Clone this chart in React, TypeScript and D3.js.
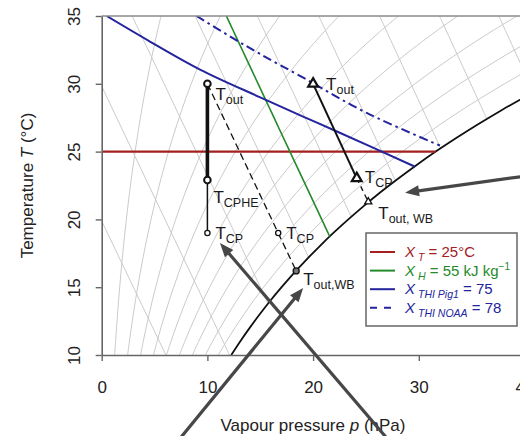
import React, { useEffect, useRef } from "react";
import * as d3 from "d3";

// axis ticks
const xTicks = [0, 10, 20, 30, 40];
const yTicks = [10, 15, 20, 25, 30, 35];

// saturation vapour pressure (hPa) at 10..35 °C
const satTemps = [10, 11, 12, 13, 14, 15, 16, 17, 18, 19, 20, 21, 22, 23, 24, 25, 26, 27, 28, 29, 30, 31, 32, 33, 34, 35];
const satPressures = [
  12.26, 13.1, 14.0, 14.95, 15.95, 17.02, 18.14, 19.33, 20.59, 21.92, 23.33, 24.81, 26.37,
  28.03, 29.77, 31.6, 33.54, 35.57, 37.71, 39.97, 42.34, 44.83, 47.45, 50.2, 53.09, 56.13,
];

// background isolines
const rhLevels = [0.1, 0.2, 0.3, 0.4, 0.5, 0.6, 0.7, 0.8, 0.9];
const enthalpyLevels = [10, 20, 30, 40, 50, 60, 70, 80, 90, 100];
const airPressure = 963;

// thresholds
const limitTemp = 25;
const limitEnthalpy = 55;
const thiPig1P = [0.47, 4.6, 9.3, 15.0, 19.0, 22.2, 29.6];
const thiPig1T = [35, 33.1, 31.05, 29.0, 27.6, 26.5, 23.9];
const thiNoaaP = [8.97, 12.45, 14.98, 19.07, 25.07, 32.0];
const thiNoaaT = [35, 33.35, 32.2, 30.45, 27.85, 25.45];

// states (circles: CPHE case, triangles: CP case)
const circleSubs = ["out", "CPHE", "CP", "CP", "out,WB"];
const circleP = [10, 10, 10, 16.7, 18.4];
const circleT = [30, 22.9, 19, 19, 16.2];
const triangleSubs = ["out", "CP", "out, WB"];
const triangleP = [20, 24.13, 25.22];
const triangleT = [30, 23.03, 21.3];

// annotation arrows
const arrowFromP = [40.5, 6.9, 27.53];
const arrowFromT = [23.24, 3.36, 3.36];
const arrowToP = [28.7, 19.06, 11.19];
const arrowToT = [21.97, 14.94, 18.26];

const legendLabels = [
  { sub: "T", rest: " = 25°C", sup: "" },
  { sub: "H", rest: " = 55 kJ kg", sup: "−1" },
  { sub: "THI Pig1", rest: " = 75", sup: "" },
  { sub: "THI NOAA", rest: " = 78", sup: "" },
];

const RED = "#a3201f";
const GREEN = "#248a2a";
const BLUE = "#24249e";
const FONT = "'Liberation Sans', Arial, Helvetica, sans-serif";

const x = d3.scaleLinear().domain([0, 40]).range([101.7, 524.5]);
const y = d3.scaleLinear().domain([10, 35]).range([355, 16]);
const psat = d3.scaleLinear().domain(satTemps).range(satPressures);

const line = d3
  .line<[number, number]>()
  .x((d) => x(d[0]))
  .y((d) => y(d[1]))
  .curve(d3.curveCatmullRom.alpha(0.5));

const straight = d3
  .line<[number, number]>()
  .x((d) => x(d[0]))
  .y((d) => y(d[1]));

function pAtEnthalpy(h: number, t: number) {
  const w = (h - 1.006 * t) / (2501 + 1.86 * t);
  return (airPressure * w) / (0.622 + w);
}

function enthalpyLine(h: number): [number, number][] {
  const tTop = Math.min(35, h / 1.006);
  let lo = 0;
  let hi = tTop;
  for (let i = 0; i < 40; i++) {
    const mid = (lo + hi) / 2;
    if (pAtEnthalpy(h, mid) > psat(mid)) lo = mid;
    else hi = mid;
  }
  const n = 16;
  return d3.range(n + 1).map((i) => {
    const t = lo + ((tTop - lo) * i) / n;
    return [Math.max(0, pAtEnthalpy(h, t)), t] as [number, number];
  });
}

const zip = (ps: number[], ts: number[]) => ps.map((p, i) => [p, ts[i]] as [number, number]);

const App: React.FC = () => {
  const xAxisRef = useRef<SVGGElement | null>(null);
  const yAxisRef = useRef<SVGGElement | null>(null);

  useEffect(() => {
    if (!xAxisRef.current || !yAxisRef.current) return;
    const gx = d3.select(xAxisRef.current);
    const gy = d3.select(yAxisRef.current);
    gx.selectAll("*").remove();
    gy.selectAll("*").remove();

    gx.call(d3.axisBottom(x).tickValues(xTicks).tickSize(6).tickSizeOuter(0).tickFormat(d3.format("d")));
    gy.call(d3.axisLeft(y).tickValues(yTicks).tickSize(6).tickSizeOuter(0).tickFormat(d3.format("d")));

    [gx, gy].forEach((g) => {
      g.select(".domain").attr("stroke", "#666").attr("stroke-width", 1.6);
      g.selectAll(".tick line").attr("stroke", "#666").attr("stroke-width", 1.4);
      g.selectAll(".tick text")
        .attr("font-family", FONT)
        .attr("font-size", 17)
        .attr("fill", "#222");
    });
    gx.attr("font-size", null).attr("font-family", null);
    gy.attr("font-size", null).attr("font-family", null);
    gx.selectAll(".tick text").attr("y", 38).attr("dy", null);
    gy.selectAll(".tick text")
      .attr("x", null)
      .attr("dy", null)
      .attr("text-anchor", "middle")
      .attr("transform", "translate(-21.7,0) rotate(-90)");
  }, []);

  const arrows = arrowFromP.map((p, i) => {
    const x0 = x(p);
    const y0 = y(arrowFromT[i]);
    const x1 = x(arrowToP[i]);
    const y1 = y(arrowToT[i]);
    const len = Math.hypot(x1 - x0, y1 - y0);
    const ux = (x1 - x0) / len;
    const uy = (y1 - y0) / len;
    const hl = 14;
    const hw = 5.5;
    const bx = x1 - ux * hl;
    const by = y1 - uy * hl;
    return { x0, y0, lx: x1 - ux * 10, ly: y1 - uy * 10, head: `M${x1},${y1}L${bx - uy * hw},${by + ux * hw}L${bx + uy * hw},${by - ux * hw}Z` };
  });

  const tri = d3.symbol().type(d3.symbolTriangle);
  const circleR = [3.3, 3.3, 2.6, 2.6, 3];
  const circleOff = [[8, 16], [6, 23], [8, 6], [8, 6], [7, 14]];
  const triSize = [42, 42, 22];
  const triOff = [[13, 6], [8, 5], [10, 17]];

  const legendRows = [257, 275.6, 294.2, 312.8];

  return (
    <svg width={520} height={436} style={{ position: "absolute", left: 0, top: 0, background: "#fff" }}>
      <defs>
        <clipPath id="plot">
          <rect x={101.7} y={16} width={422.8} height={339} />
        </clipPath>
      </defs>

      <g clipPath="url(#plot)" fill="none">
        {rhLevels.map((rh) => (
          <path key={"rh" + rh} d={line(satPressures.map((ps, i) => [ps * rh, satTemps[i]] as [number, number])) || ""} stroke="#cacaca" strokeWidth={1} />
        ))}
        {enthalpyLevels.map((h) => (
          <path key={"h" + h} d={line(enthalpyLine(h)) || ""} stroke="#cacaca" strokeWidth={1} />
        ))}
        <path d={line(zip(satPressures, satTemps)) || ""} stroke="#111" strokeWidth={1.8} />
        <path d={straight([[0, limitTemp], [psat(limitTemp), limitTemp]]) || ""} stroke={RED} strokeWidth={2.2} />
        <path d={line(enthalpyLine(limitEnthalpy)) || ""} stroke={GREEN} strokeWidth={1.6} />
        <path d={line(zip(thiPig1P, thiPig1T)) || ""} stroke={BLUE} strokeWidth={2} />
        <path d={line(zip(thiNoaaP, thiNoaaT)) || ""} stroke={BLUE} strokeWidth={2} strokeDasharray="9,4,2.5,4" />
      </g>

      {/* process lines */}
      <g fill="none" stroke="#111">
        <path d={straight([[circleP[0], circleT[0]], [circleP[1], circleT[1]]]) || ""} strokeWidth={3.6} />
        <path d={straight([[circleP[1], circleT[1]], [circleP[2], circleT[2]]]) || ""} strokeWidth={1.5} />
        <path d={straight([[circleP[0], circleT[0]], [circleP[4], circleT[4]]]) || ""} strokeWidth={1.3} strokeDasharray="7,4" />
        <path d={straight([[triangleP[0], triangleT[0]], [triangleP[1], triangleT[1]]]) || ""} strokeWidth={2} />
        <path d={straight([[triangleP[1], triangleT[1]], [triangleP[2], triangleT[2]]]) || ""} strokeWidth={1.3} strokeDasharray="5,4" />
      </g>

      {circleP.map((p, i) => (
        <circle key={"c" + i} cx={x(p)} cy={y(circleT[i])} r={circleR[i]} fill={i === 4 ? "#777" : "#fff"} stroke="#111" strokeWidth={i < 2 ? 2 : 1.3} />
      ))}
      {triangleP.map((p, i) => (
        <path key={"t" + i} transform={`translate(${x(p)},${y(triangleT[i])})`} d={tri.size(triSize[i])() || ""} fill="#fff" stroke="#111" strokeWidth={i < 2 ? 2.2 : 1.3} />
      ))}

      <g fontFamily={FONT} fill="#1a1a1a">
        {circleP.map((p, i) => (
          <text key={"cl" + i} x={x(p) + circleOff[i][0]} y={y(circleT[i]) + circleOff[i][1]} fontSize={17}>
            T<tspan fontSize={12.5} dy={4}>{circleSubs[i]}</tspan>
          </text>
        ))}
        {triangleP.map((p, i) => (
          <text key={"tl" + i} x={x(p) + triOff[i][0]} y={y(triangleT[i]) + triOff[i][1]} fontSize={17} style={{ whiteSpace: "pre" }}>
            T<tspan fontSize={12.5} dy={4}>{triangleSubs[i]}</tspan>
          </text>
        ))}
      </g>

      {/* frame */}
      <line x1={101.7} x2={524.5} y1={16} y2={16} stroke="#8a8a8a" strokeWidth={1.3} />
      <g ref={xAxisRef} transform="translate(0,355)" />
      <g ref={yAxisRef} transform="translate(101.7,0)" />

      <text x={313} y={431} textAnchor="middle" fontFamily={FONT} fontSize={17} fill="#222" style={{ whiteSpace: "pre" }}>
        Vapour pressure <tspan fontStyle="italic">p</tspan> (hPa)
      </text>
      <text transform="translate(33,185.5) rotate(-90)" textAnchor="middle" fontFamily={FONT} fontSize={17} fill="#222" style={{ whiteSpace: "pre" }}>
        Temperature <tspan fontStyle="italic">T</tspan> (°C)
      </text>

      {/* legend */}
      <rect x={366} y={233} width={151} height={93} fill="#fff" stroke="#666" strokeWidth={1.5} />
      {legendLabels.map((item, i) => {
        const color = i === 0 ? RED : i === 1 ? GREEN : BLUE;
        return (
          <g key={"lg" + i}>
            <line x1={370} x2={395} y1={legendRows[i] - 5} y2={legendRows[i] - 5} stroke={color} strokeWidth={2} strokeDasharray={i === 3 ? "7,7" : undefined} />
            <text x={405} y={legendRows[i]} fontFamily={FONT} fontSize={15} fill={color} style={{ whiteSpace: "pre" }}>
              <tspan fontStyle="italic">X</tspan>
              <tspan fontStyle="italic" fontSize={10.5} dx={3} dy={4}>{item.sub}</tspan>
              <tspan dy={-4}>{item.rest}</tspan>
              {item.sup && <tspan fontSize={10} dy={-6}>{item.sup}</tspan>}
            </text>
          </g>
        );
      })}

      {/* arrows */}
      {arrows.map((a, i) => (
        <g key={"a" + i}>
          <line x1={a.x0} y1={a.y0} x2={a.lx} y2={a.ly} stroke="#474747" strokeWidth={3.2} />
          <path d={a.head} fill="#474747" />
        </g>
      ))}
    </svg>
  );
};

export default App;
